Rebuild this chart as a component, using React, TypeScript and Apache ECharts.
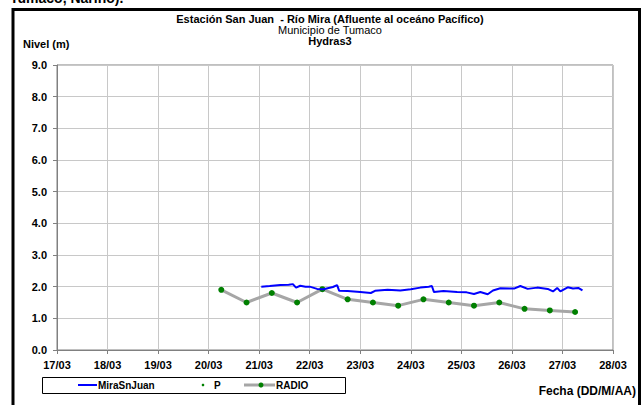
import React, { useEffect, useRef } from "react";
import * as echarts from "echarts";

const xTickStart = "2010-03-17 00:00";
const xTickEnd = "2010-03-28 00:00";
const yTickValues = [0, 1, 2, 3, 4, 5, 6, 7, 8, 9];

const miraTimes = [
  "2010-03-21 01:00", "2010-03-21 05:00", "2010-03-21 10:00", "2010-03-21 14:00",
  "2010-03-21 16:00", "2010-03-21 17:30", "2010-03-21 19:30", "2010-03-21 22:00",
  "2010-03-22 00:00", "2010-03-22 03:30", "2010-03-22 06:30", "2010-03-22 11:00",
  "2010-03-22 13:00", "2010-03-22 14:00", "2010-03-22 18:00", "2010-03-23 00:00",
  "2010-03-23 05:00", "2010-03-23 07:00", "2010-03-23 13:00", "2010-03-23 19:00",
  "2010-03-24 00:00", "2010-03-24 04:30", "2010-03-24 08:30", "2010-03-24 10:00",
  "2010-03-24 11:00", "2010-03-24 15:30", "2010-03-24 22:00", "2010-03-25 02:30",
  "2010-03-25 06:00", "2010-03-25 09:00", "2010-03-25 12:30", "2010-03-25 15:00",
  "2010-03-25 18:30", "2010-03-26 01:00", "2010-03-26 04:00", "2010-03-26 07:30",
  "2010-03-26 12:00", "2010-03-26 17:00", "2010-03-26 19:30", "2010-03-26 21:30",
  "2010-03-26 23:00", "2010-03-27 02:30", "2010-03-27 05:00", "2010-03-27 07:30",
  "2010-03-27 09:30",
];
const miraValues = [
  2.0, 2.02, 2.05, 2.06,
  2.08, 1.97, 2.03, 2.0,
  2.0, 1.93, 1.92, 1.99,
  2.05, 1.87, 1.86, 1.83,
  1.8, 1.87, 1.9, 1.88,
  1.92, 1.97, 2.0, 2.02,
  1.83, 1.86, 1.83, 1.82,
  1.77, 1.83, 1.76, 1.88,
  1.95, 1.94, 2.02, 1.93,
  1.97, 1.93, 1.85, 1.96,
  1.85, 1.98, 1.94, 1.96,
  1.88,
];

const radioTimes = [
  "2010-03-20 06:00", "2010-03-20 18:00", "2010-03-21 06:00", "2010-03-21 18:00",
  "2010-03-22 06:00", "2010-03-22 18:00", "2010-03-23 06:00", "2010-03-23 18:00",
  "2010-03-24 06:00", "2010-03-24 18:00", "2010-03-25 06:00", "2010-03-25 18:00",
  "2010-03-26 06:00", "2010-03-26 18:00", "2010-03-27 06:00",
];
const radioValues = [1.9, 1.5, 1.8, 1.5, 1.92, 1.6, 1.5, 1.4, 1.6, 1.5, 1.4, 1.5, 1.3, 1.25, 1.2];

const pTimes: string[] = [];
const pValues: number[] = [];

const seriesNames = ["MiraSnJuan", "P", "RADIO"];

function toUTC(s: string): number {
  const [d, t] = s.split(" ");
  const [y, m, dd] = d.split("-").map(Number);
  const [hh, mm] = t.split(":").map(Number);
  return Date.UTC(y, m - 1, dd, hh, mm);
}

const DAY = 86400000;
const FONT = "'Liberation Sans', Arial, sans-serif";

export default function App() {
  const ref = useRef<HTMLDivElement>(null);
  useEffect(() => {
    if (!ref.current) return;
    const chart = echarts.init(ref.current, null, { renderer: "svg" });
    const miraData = miraTimes.map((t, i) => [toUTC(t), miraValues[i]]);
    const radioData = radioTimes.map((t, i) => [toUTC(t), radioValues[i]]);
    const pData = pTimes.map((t, i) => [toUTC(t), pValues[i]]);

    const legendY = 385;
    chart.setOption({
      animation: false,
      backgroundColor: "#ffffff",
      textStyle: { fontFamily: FONT },
      grid: { left: 57, right: 28, top: 65, bottom: 55, show: true, borderColor: "#808080", borderWidth: 1 },
      xAxis: {
        type: "value",
        min: toUTC(xTickStart),
        max: toUTC(xTickEnd),
        interval: DAY,
        axisLine: { show: true, onZero: false, lineStyle: { color: "#808080", width: 1 } },
        axisTick: { show: true, inside: false, length: 4, lineStyle: { color: "#808080" } },
        splitLine: { show: true, lineStyle: { color: "#c8c8c8", width: 1 } },
        axisLabel: {
          margin: 9,
          fontFamily: FONT,
          fontSize: 11,
          fontWeight: "bold",
          color: "#000",
          formatter: (v: number) => {
            const d = new Date(v);
            const dd = String(d.getUTCDate()).padStart(2, "0");
            const mm = String(d.getUTCMonth() + 1).padStart(2, "0");
            return dd + "/" + mm;
          },
        },
      },
      yAxis: {
        type: "value",
        min: yTickValues[0],
        max: yTickValues[yTickValues.length - 1],
        interval: 1,
        axisLine: { show: true, lineStyle: { color: "#808080", width: 1 } },
        axisTick: { show: true, inside: false, length: 4, lineStyle: { color: "#808080" } },
        splitLine: { show: true, lineStyle: { color: "#c8c8c8", width: 1 } },
        axisLabel: {
          margin: 10,
          fontFamily: FONT,
          fontSize: 11,
          fontWeight: "bold",
          color: "#000",
          formatter: (v: number) => v.toFixed(1),
        },
      },
      series: [
        {
          name: seriesNames[2],
          type: "line",
          data: radioData,
          symbol: "circle",
          symbolSize: 6,
          showSymbol: true,
          lineStyle: { color: "#a6a6a6", width: 3 },
          itemStyle: { color: "#008000" },
          z: 2,
        },
        {
          name: seriesNames[0],
          type: "line",
          data: miraData,
          showSymbol: false,
          symbol: "none",
          lineStyle: { color: "#0000ff", width: 2 },
          itemStyle: { color: "#0000ff" },
          z: 3,
        },
        {
          name: seriesNames[1],
          type: "scatter",
          data: pData,
          symbolSize: 3,
          itemStyle: { color: "#008000" },
          z: 4,
        },
      ],
      graphic: [
        {
          type: "text",
          left: 10,
          top: -9,
          style: { text: "Tumaco, Nariño).", font: `bold 14px ${FONT}`, fill: "#000" },
          z: 1,
        },
        {
          type: "rect",
          shape: { x: 13, y: 9.5, width: 626.5, height: 430 },
          style: { fill: "none", stroke: "#000", lineWidth: 3 },
          silent: true,
          z: 10,
        },
        {
          type: "text",
          x: 330,
          y: 19,
          style: {
            text: "Estación San Juan  - Río Mira (Afluente al oceáno Pacífico)",
            font: `bold 11px ${FONT}`,
            fill: "#000",
            textAlign: "center",
            textVerticalAlign: "middle",
          },
        },
        {
          type: "text",
          x: 330,
          y: 30,
          style: {
            text: "Municipio de Tumaco",
            font: `11px ${FONT}`,
            fill: "#000",
            textAlign: "center",
            textVerticalAlign: "middle",
          },
        },
        {
          type: "text",
          x: 330,
          y: 41,
          style: {
            text: "Hydras3",
            font: `bold 11px ${FONT}`,
            fill: "#000",
            textAlign: "center",
            textVerticalAlign: "middle",
          },
        },
        {
          type: "text",
          x: 23,
          y: 44,
          style: {
            text: "Nivel (m)",
            font: `bold 11px ${FONT}`,
            fill: "#000",
            textAlign: "left",
            textVerticalAlign: "middle",
          },
        },
        {
          type: "text",
          x: 636,
          y: 391,
          style: {
            text: "Fecha (DD/M/AA)",
            font: `bold 12px ${FONT}`,
            fill: "#000",
            textAlign: "right",
            textVerticalAlign: "middle",
          },
        },
        {
          type: "rect",
          shape: { x: 42.5, y: 377.5, width: 303, height: 16 },
          style: { fill: "#fff", stroke: "#000", lineWidth: 1 },
        },
        {
          type: "line",
          shape: { x1: 78, y1: legendY, x2: 97, y2: legendY },
          style: { stroke: "#0000ff", lineWidth: 2 },
        },
        {
          type: "text",
          x: 98,
          y: legendY,
          style: { text: seriesNames[0], font: `bold 10px ${FONT}`, fill: "#000", textVerticalAlign: "middle" },
        },
        {
          type: "circle",
          shape: { cx: 203, cy: legendY, r: 1.3 },
          style: { fill: "#008000" },
        },
        {
          type: "text",
          x: 214,
          y: legendY,
          style: { text: seriesNames[1], font: `bold 10px ${FONT}`, fill: "#000", textVerticalAlign: "middle" },
        },
        {
          type: "line",
          shape: { x1: 244, y1: legendY, x2: 275, y2: legendY },
          style: { stroke: "#a6a6a6", lineWidth: 3 },
        },
        {
          type: "circle",
          shape: { cx: 261, cy: legendY, r: 2.5 },
          style: { fill: "#008000" },
        },
        {
          type: "text",
          x: 276,
          y: legendY,
          style: { text: seriesNames[2], font: `bold 10px ${FONT}`, fill: "#000", textVerticalAlign: "middle" },
        },
      ],
    });
    return () => chart.dispose();
  }, []);
  return <div ref={ref} style={{ width: 641, height: 405, position: "absolute", left: 0, top: 0 }} />;
}
